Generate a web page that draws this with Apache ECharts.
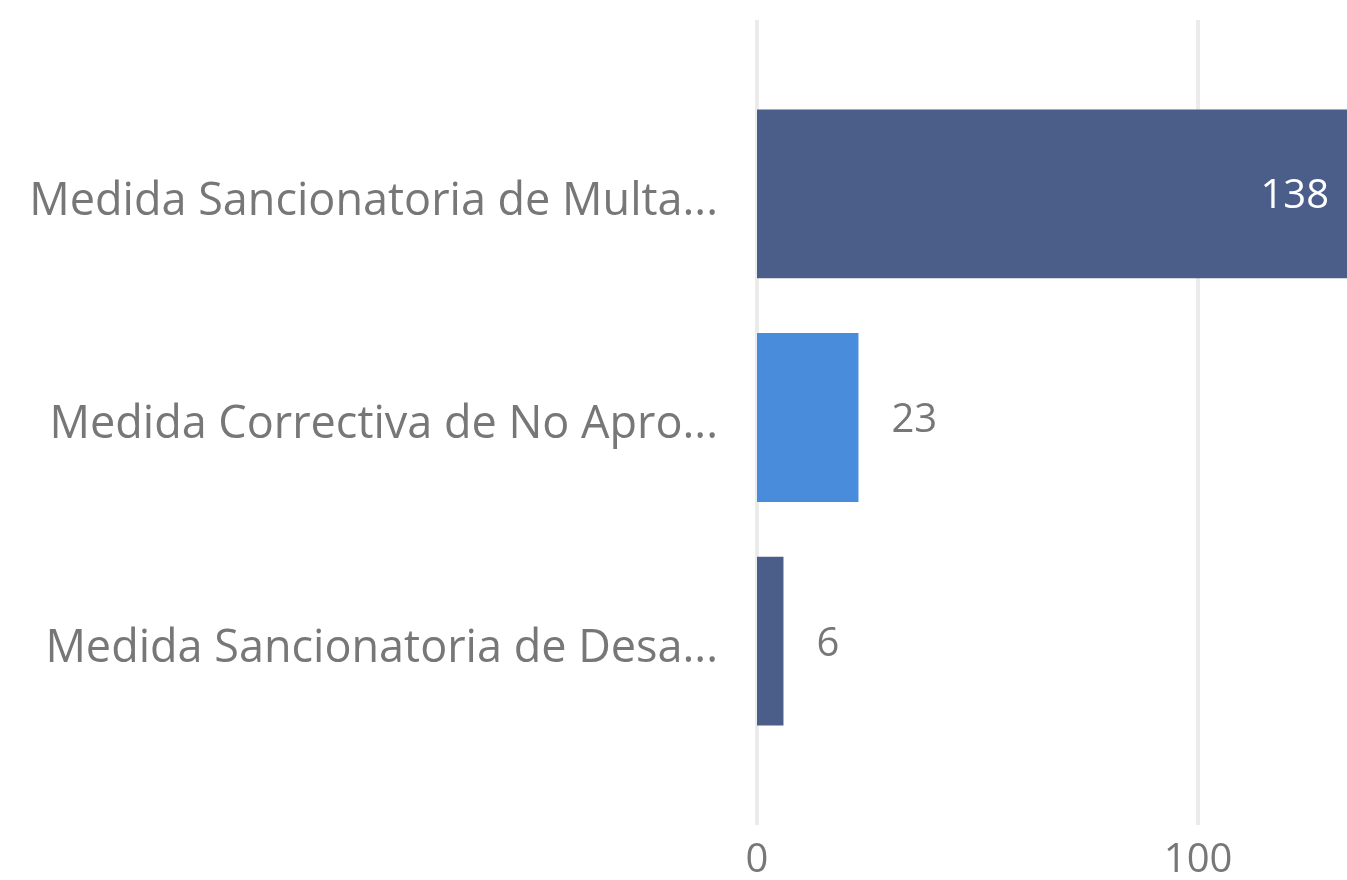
<!DOCTYPE html>
<html>
<head>
<meta charset="utf-8">
<script src="https://cdn.jsdelivr.net/npm/echarts@6/dist/echarts.min.js"></script>
<style>
html, body { margin: 0; padding: 0; background: #fff; }
#chart { width: 1347px; height: 880px; }
</style>
</head>
<body>
<div id="chart"></div>
<script>
var categories = ['Medida Sancionatoria de Multa...', 'Medida Correctiva de No Apro...', 'Medida Sancionatoria de Desa...'];
var values = [138, 23, 6];
var tickStep = 100;

var barColors = ['#4B5D89', '#4A8CDC', '#4B5D89'];
var font = '"Open Sans", "Noto Sans", sans-serif';
var axisMax = 136;

var myChart = echarts.init(document.getElementById('chart'));

var barData = [];
for (var i = 0; i < values.length; i++) {
	var inside = values[i] > 100;
	barData.push({
		value: values[i],
		itemStyle: { color: barColors[i] },
		label: {
			show: true,
			position: inside ? 'insideRight' : 'right',
			distance: inside ? 28 : 33,
			color: inside ? '#ffffff' : '#777777'
		}
	});
}

var option = {
	animation: false,
	grid: [
		{ left: 757, width: 600, top: 82, bottom: 127, outerBoundsMode: 'none', containLabel: false },
		{ left: 757, width: 600, top: 20, bottom: 55, outerBoundsMode: 'none', containLabel: false }
	],
	xAxis: [
		{
			gridIndex: 0, type: 'value', min: 0, max: axisMax,
			axisLabel: { show: false }, splitLine: { show: false },
			axisLine: { show: false }, axisTick: { show: false }
		},
		{
			gridIndex: 1, type: 'value', min: 0, max: axisMax, interval: tickStep,
			axisLine: { show: false }, axisTick: { show: false },
			splitLine: { show: true, lineStyle: { color: '#ebebeb', width: 4 } },
			axisLabel: {
				color: '#777777', fontSize: 40, fontFamily: font, margin: 16,
				showMaxLabel: false
			}
		}
	],
	yAxis: [
		{
			gridIndex: 0, type: 'category', inverse: true, data: categories,
			axisLine: { show: false }, axisTick: { show: false },
			axisLabel: {
				margin: 39,
				formatter: function (v) { return '{t|' + v + '}'; },
				rich: {
					t: { color: '#777777', fontSize: 45, fontFamily: font, padding: [16, 0, 0, 0] }
				}
			}
		},
		{ gridIndex: 1, type: 'value', show: false }
	],
	series: [
		{
			type: 'bar',
			xAxisIndex: 0,
			yAxisIndex: 0,
			barCategoryGap: '24.5%',
			label: {
				fontSize: 40, fontFamily: font,
				formatter: '{v|{c}}',
				rich: { v: { fontSize: 40, fontFamily: font, padding: [6, 0, 0, 0] } }
			},
			data: barData
		}
	]
};
myChart.setOption(option);
</script>
</body>
</html>
